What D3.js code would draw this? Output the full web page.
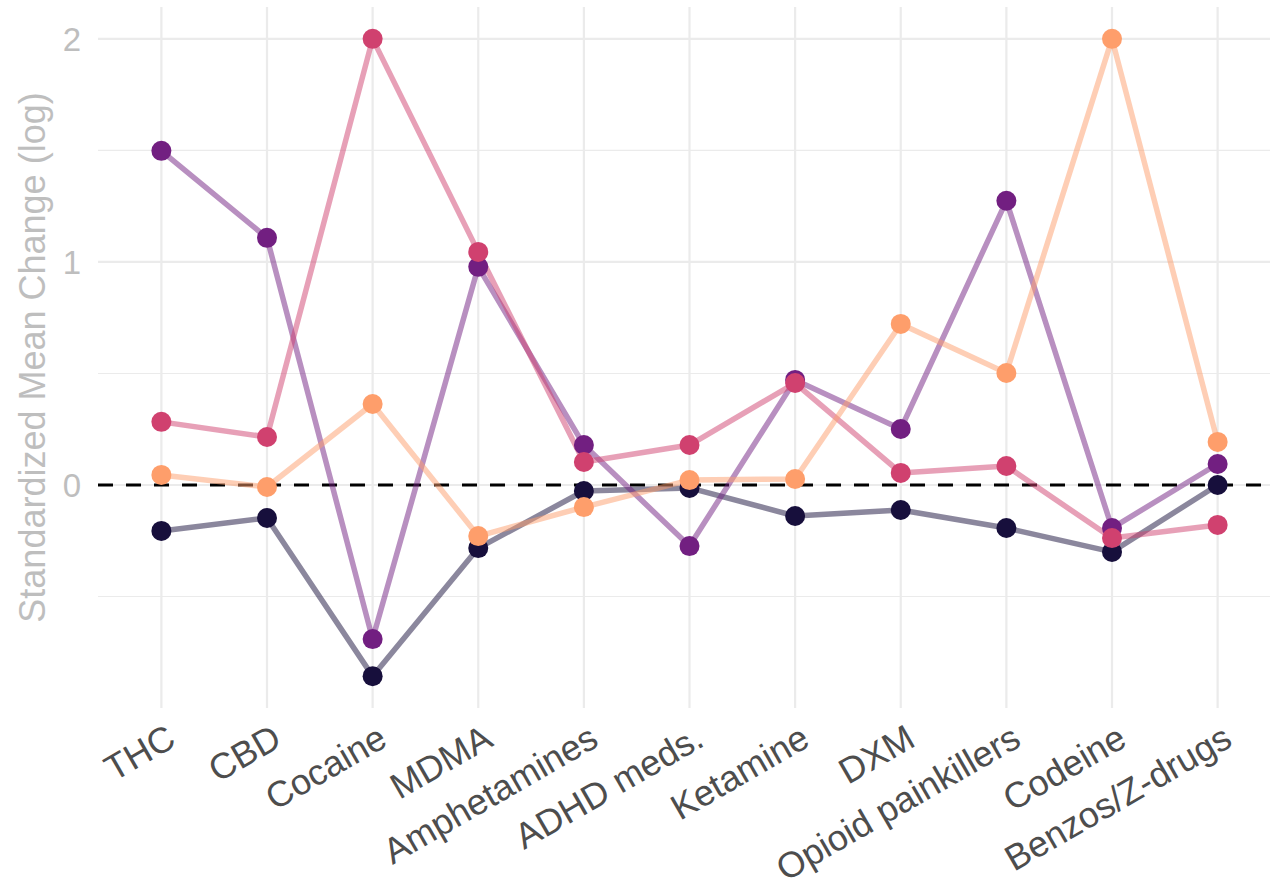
<!DOCTYPE html>
<html>
<head>
<meta charset="utf-8">
<script src="https://cdn.jsdelivr.net/npm/d3@7"></script>
<style>
  html, body { margin: 0; padding: 0; background: #fff; }
  svg { display: block; font-family: "Liberation Sans", Arial, sans-serif; }
</style>
</head>
<body>
<svg id="chart" width="1270" height="888"></svg>
<script>
// Substances on the x axis
const substances = ["THC", "CBD", "Cocaine", "MDMA", "Amphetamines", "ADHD meds.",
  "Ketamine", "DXM", "Opioid painkillers", "Codeine", "Benzos/Z-drugs"];

// Standardized mean change (log) per group, one value per substance
const groupA = [-0.206, -0.148, -0.857, -0.283, -0.027, -0.013, -0.139, -0.112, -0.193, -0.300, 0.000];
const groupB = [1.498, 1.108, -0.691, 0.978, 0.179, -0.274, 0.471, 0.251, 1.274, -0.193, 0.094];
const groupC = [0.283, 0.215, 2.000, 1.045, 0.103, 0.179, 0.457, 0.054, 0.085, -0.238, -0.179];
const groupD = [0.045, -0.009, 0.363, -0.229, -0.099, 0.022, 0.027, 0.722, 0.502, 2.000, 0.193];

const seriesColors = ["#170F3C", "#721F81", "#D0416F", "#FE9E6B"];
const yTicks = [0, 1, 2];
const yMinorTicks = [-0.5, 0.5, 1.5];
const yTitle = "Standardized Mean Change (log)";

const series = [groupA, groupB, groupC, groupD].map((vals, i) => ({
  color: seriesColors[i],
  points: vals.map((v, j) => ({ name: substances[j], value: v }))
}));

const svg = d3.select("#chart");
const panel = { left: 98, right: 1281, top: 7, bottom: 708 };

const x = d3.scalePoint().domain(substances).range([panel.left, panel.right]).padding(0.6);
const allVals = [].concat(groupA, groupB, groupC, groupD);
const ext = d3.extent(allVals);
const pad = (ext[1] - ext[0]) * 0.05;
const y = d3.scaleLinear().domain([ext[0] - pad, ext[1] + pad]).range([panel.bottom, panel.top]);

// Grid
const grid = svg.append("g");
grid.selectAll("line.minor").data(yMinorTicks).join("line")
  .attr("x1", panel.left).attr("x2", panel.right)
  .attr("y1", d => y(d)).attr("y2", d => y(d))
  .attr("stroke", "#EBEBEB").attr("stroke-width", 1.1);
grid.selectAll("line.major").data(yTicks).join("line")
  .attr("x1", panel.left).attr("x2", panel.right)
  .attr("y1", d => y(d)).attr("y2", d => y(d))
  .attr("stroke", "#EBEBEB").attr("stroke-width", 2.2);
grid.selectAll("line.vx").data(substances).join("line")
  .attr("x1", d => x(d)).attr("x2", d => x(d))
  .attr("y1", panel.top).attr("y2", panel.bottom)
  .attr("stroke", "#EBEBEB").attr("stroke-width", 2.2);

// Reference line at zero
svg.append("line")
  .attr("x1", panel.left).attr("x2", panel.right)
  .attr("y1", y(0)).attr("y2", y(0))
  .attr("stroke", "#000").attr("stroke-width", 3)
  .attr("stroke-dasharray", "15,13");

// Lines
const line = d3.line().x(d => x(d.name)).y(d => y(d.value));
svg.append("g").selectAll("path").data(series).join("path")
  .attr("d", d => line(d.points))
  .attr("fill", "none")
  .attr("stroke", d => d.color)
  .attr("stroke-opacity", 0.5)
  .attr("stroke-width", 5.5)
  .attr("stroke-linejoin", "round");

// Points
svg.append("g").selectAll("g").data(series).join("g")
  .attr("fill", d => d.color)
  .selectAll("circle").data(d => d.points).join("circle")
  .attr("cx", d => x(d.name)).attr("cy", d => y(d.value)).attr("r", 10);

// Y axis
const yAxis = svg.append("g")
  .attr("transform", `translate(${panel.left - 17},0)`)
  .call(d3.axisLeft(y).tickValues(yTicks).tickSize(0).tickPadding(0).tickFormat(d3.format("d")));
yAxis.select(".domain").remove();
yAxis.selectAll("text")
  .attr("fill", "#BEBEBE").attr("font-size", 33)
  .attr("font-family", "Liberation Sans, Arial, sans-serif")
  .attr("dy", "0.36em");

// X axis: labels end at a point just right of and below each tick
const xAxis = svg.append("g")
  .attr("transform", `translate(0,${panel.bottom})`)
  .call(d3.axisBottom(x).tickSize(0).tickPadding(0));
xAxis.select(".domain").remove();
xAxis.selectAll("text")
  .attr("fill", "#4D4D4D").attr("font-size", 36)
  .attr("font-family", "Liberation Sans, Arial, sans-serif")
  .attr("text-anchor", "end")
  .attr("y", 0).attr("dy", 0)
  .attr("transform", "translate(16,37) rotate(-30)");

// Y title
svg.append("text")
  .attr("transform", `translate(45,${(panel.top + panel.bottom) / 2}) rotate(-90)`)
  .attr("text-anchor", "middle")
  .attr("fill", "#BEBEBE").attr("font-size", 36)
  .text(yTitle);
</script>
</body>
</html>
